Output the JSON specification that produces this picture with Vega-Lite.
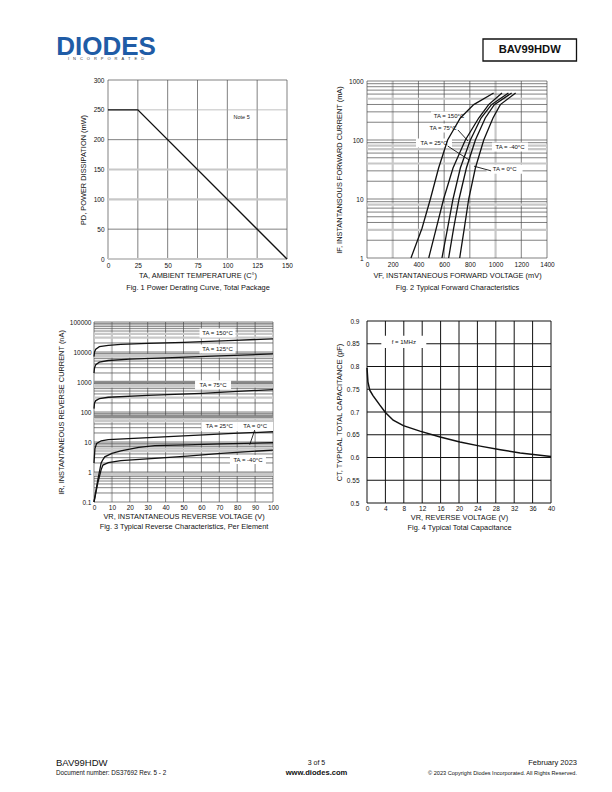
{
"$schema":"https://vega.github.io/schema/vega-lite/v6.json",
"width":612,"height":792,"padding":0,"autosize":{"type":"none"},"background":"white",
"config":{"font":"Liberation Sans","view":{"stroke":null},
 "axis":{"grid":false,"ticks":false,"domain":false,"labelFlush":false,"labelFontSize":6.5,"labelColor":"#111","titleFontSize":7.4,"titleFontWeight":"normal","titleColor":"#111","labelFont":"Liberation Sans","titleFont":"Liberation Sans","titleLineHeight":11,"labelOverlap":false}},
"datasets":{
 "pd":[{"x":0,"y":250},{"x":25,"y":250},{"x":150,"y":0}],
 "n1":[{"x":112,"y":238,"lab":"Note 5"}],
 "g1":[{"d":"v","v":0,"t":"k"},{"d":"v","v":25,"t":"k"},{"d":"v","v":50,"t":"k"},{"d":"v","v":75,"t":"k"},{"d":"v","v":100,"t":"k"},{"d":"v","v":125,"t":"k"},{"d":"v","v":150,"t":"k"},
  {"d":"h","v":0,"t":"l"},{"d":"h","v":100,"t":"l"},{"d":"h","v":150,"t":"l"},{"d":"h","v":250,"t":"m"},{"d":"h","v":50,"t":"k"},{"d":"h","v":200,"t":"k"},{"d":"h","v":300,"t":"k"}],
 "vf":[
  {"s":"150","x":342,"y":1},{"s":"150","x":428,"y":3.2},{"s":"150","x":493,"y":10},{"s":"150","x":557,"y":33.5},{"s":"150","x":627,"y":100},{"s":"150","x":726,"y":236},{"s":"150","x":830,"y":398},{"s":"150","x":985,"y":626},
  {"s":"75","x":480,"y":1},{"s":"75","x":539,"y":3.2},{"s":"75","x":596,"y":10},{"s":"75","x":669,"y":33.5},{"s":"75","x":765,"y":100},{"s":"75","x":869,"y":236},{"s":"75","x":946,"y":398},{"s":"75","x":1050,"y":626},
  {"s":"25","x":583,"y":1},{"s":"25","x":627,"y":3.2},{"s":"25","x":669,"y":10},{"s":"25","x":726,"y":33.5},{"s":"25","x":804,"y":100},{"s":"25","x":887,"y":236},{"s":"25","x":968,"y":398},{"s":"25","x":1100,"y":626},
  {"s":"0","x":635,"y":1},{"s":"0","x":674,"y":3.2},{"s":"0","x":716,"y":10},{"s":"0","x":773,"y":33.5},{"s":"0","x":843,"y":100},{"s":"0","x":920,"y":236},{"s":"0","x":990,"y":398},{"s":"0","x":1125,"y":626},
  {"s":"-40","x":721,"y":1},{"s":"-40","x":757,"y":3.2},{"s":"-40","x":791,"y":10},{"s":"-40","x":843,"y":33.5},{"s":"-40","x":908,"y":100},{"s":"-40","x":980,"y":236},{"s":"-40","x":1037,"y":398},{"s":"-40","x":1156,"y":626}],
 "g2":[{"d":"v","v":200,"t":"l"},{"d":"v","v":1000,"t":"l"},{"d":"v","v":0,"t":"k"},{"d":"v","v":400,"t":"k"},{"d":"v","v":600,"t":"k"},{"d":"v","v":800,"t":"k"},{"d":"v","v":1200,"t":"k"},{"d":"v","v":1400,"t":"k"},
  {"d":"h","v":3,"t":"l"},{"d":"h","v":8,"t":"l"},{"d":"h","v":40,"t":"l"},{"d":"h","v":70,"t":"l"},{"d":"h","v":80,"t":"l"},{"d":"h","v":500,"t":"l"},
  {"d":"h","v":1,"t":"k"},{"d":"h","v":2,"t":"k"},{"d":"h","v":4,"t":"k"},{"d":"h","v":5,"t":"k"},{"d":"h","v":6,"t":"k"},{"d":"h","v":7,"t":"k"},{"d":"h","v":9,"t":"k"},
  {"d":"h","v":10,"t":"k"},{"d":"h","v":20,"t":"k"},{"d":"h","v":30,"t":"k"},{"d":"h","v":50,"t":"k"},{"d":"h","v":60,"t":"k"},{"d":"h","v":90,"t":"k"},
  {"d":"h","v":100,"t":"k"},{"d":"h","v":200,"t":"k"},{"d":"h","v":300,"t":"k"},{"d":"h","v":400,"t":"k"},{"d":"h","v":600,"t":"k"},{"d":"h","v":700,"t":"k"},{"d":"h","v":800,"t":"k"},{"d":"h","v":900,"t":"k"},{"d":"h","v":1000,"t":"k"}],
 "l2":[{"x":638,"y":255,"lab":"TA = 150°C"},{"x":591,"y":160,"lab":"TA = 75°C"},{"x":521,"y":89,"lab":"TA = 25°C"},{"x":1112,"y":76,"lab":"TA = -40°C"},{"x":1070,"y":32,"lab":"TA = 0°C"}],
 "a2":[{"x":707,"y":148,"x2":786,"y2":96},{"x":628,"y":79,"x2":793,"y2":46},{"x":965,"y":30,"x2":832,"y2":36}],
 "ir":[
  {"s":"150","x":0,"y":7000},{"s":"150","x":0.3,"y":10000},{"s":"150","x":1,"y":12500},{"s":"150","x":3,"y":15000},{"s":"150","x":8,"y":16700},{"s":"150","x":15,"y":18000},{"s":"150","x":30,"y":19500},{"s":"150","x":50,"y":21000},{"s":"150","x":75,"y":24000},{"s":"150","x":100,"y":27500},
  {"s":"125","x":0,"y":2000},{"s":"125","x":0.3,"y":3000},{"s":"125","x":1,"y":3800},{"s":"125","x":3,"y":4600},{"s":"125","x":8,"y":5200},{"s":"125","x":20,"y":5800},{"s":"125","x":40,"y":6400},{"s":"125","x":70,"y":7400},{"s":"125","x":100,"y":8600},
  {"s":"75","x":0,"y":130},{"s":"75","x":0.3,"y":200},{"s":"75","x":1,"y":240},{"s":"75","x":3,"y":280},{"s":"75","x":8,"y":310},{"s":"75","x":30,"y":360},{"s":"75","x":60,"y":420},{"s":"75","x":100,"y":560},
  {"s":"25","x":0,"y":2},{"s":"25","x":0.5,"y":6},{"s":"25","x":1.5,"y":9},{"s":"25","x":4,"y":11},{"s":"25","x":8,"y":12},{"s":"25","x":25,"y":13.5},{"s":"25","x":50,"y":16},{"s":"25","x":75,"y":19},{"s":"25","x":100,"y":22},
  {"s":"0","x":0,"y":0.1},{"s":"0","x":2,"y":0.5},{"s":"0","x":4,"y":2},{"s":"0","x":5,"y":2.6},{"s":"0","x":6,"y":3.2},{"s":"0","x":10,"y":4.2},{"s":"0","x":15,"y":5.1},{"s":"0","x":25,"y":6.6},{"s":"0","x":34,"y":7.6},{"s":"0","x":52,"y":8},{"s":"0","x":71,"y":8.6},{"s":"0","x":100,"y":9.5},
  {"s":"-40","x":0,"y":0.1},{"s":"-40","x":2,"y":0.4},{"s":"-40","x":4,"y":1.2},{"s":"-40","x":5,"y":1.7},{"s":"-40","x":8,"y":2.05},{"s":"-40","x":15,"y":2.4},{"s":"-40","x":34,"y":2.85},{"s":"-40","x":52,"y":3.4},{"s":"-40","x":71,"y":4.2},{"s":"-40","x":100,"y":5.4}],
 "g3":[{"d":"v","v":10,"t":"l"},{"d":"v","v":0,"t":"k"},{"d":"v","v":20,"t":"k"},{"d":"v","v":30,"t":"k"},{"d":"v","v":40,"t":"k"},{"d":"v","v":50,"t":"k"},{"d":"v","v":60,"t":"k"},{"d":"v","v":70,"t":"k"},{"d":"v","v":80,"t":"k"},{"d":"v","v":90,"t":"k"},{"d":"v","v":100,"t":"k"},
  {"d":"h","v":0.8,"t":"l"},{"d":"h","v":0.9,"t":"l"},{"d":"h","v":5,"t":"l"},{"d":"h","v":6,"t":"l"},{"d":"h","v":50,"t":"l"},{"d":"h","v":60,"t":"l"},{"d":"h","v":70,"t":"g"},{"d":"h","v":300,"t":"l"},{"d":"h","v":700,"t":"l"},{"d":"h","v":800,"t":"l"},{"d":"h","v":1000,"t":"g"},{"d":"h","v":7000,"t":"l"},{"d":"h","v":8000,"t":"l"},{"d":"h","v":30000,"t":"l"},{"d":"h","v":40000,"t":"l"},
  {"d":"h","v":0.1,"t":"k"},{"d":"h","v":0.2,"t":"k"},{"d":"h","v":0.3,"t":"k"},{"d":"h","v":0.4,"t":"k"},{"d":"h","v":0.5,"t":"k"},{"d":"h","v":0.6,"t":"k"},{"d":"h","v":0.7,"t":"k"},
  {"d":"h","v":1,"t":"k"},{"d":"h","v":2,"t":"k"},{"d":"h","v":3,"t":"k"},{"d":"h","v":4,"t":"k"},{"d":"h","v":7,"t":"k"},{"d":"h","v":8,"t":"k"},{"d":"h","v":9,"t":"k"},
  {"d":"h","v":10,"t":"k"},{"d":"h","v":20,"t":"k"},{"d":"h","v":30,"t":"k"},{"d":"h","v":40,"t":"k"},{"d":"h","v":80,"t":"k"},{"d":"h","v":90,"t":"k"},
  {"d":"h","v":100,"t":"k"},{"d":"h","v":200,"t":"k"},{"d":"h","v":400,"t":"k"},{"d":"h","v":500,"t":"k"},{"d":"h","v":600,"t":"k"},{"d":"h","v":900,"t":"k"},
  {"d":"h","v":2000,"t":"k"},{"d":"h","v":3000,"t":"k"},{"d":"h","v":4000,"t":"k"},{"d":"h","v":5000,"t":"k"},{"d":"h","v":6000,"t":"k"},{"d":"h","v":9000,"t":"k"},
  {"d":"h","v":10000,"t":"k"},{"d":"h","v":20000,"t":"k"},{"d":"h","v":50000,"t":"k"},{"d":"h","v":60000,"t":"k"},{"d":"h","v":70000,"t":"k"},{"d":"h","v":80000,"t":"k"},{"d":"h","v":90000,"t":"k"},{"d":"h","v":100000,"t":"k"}],
 "l3":[{"x":69,"y":43000,"lab":"TA = 150°C"},{"x":69,"y":12600,"lab":"TA = 125°C"},{"x":66.5,"y":810,"lab":"TA = 75°C"},{"x":70,"y":33,"lab":"TA = 25°C"},{"x":90,"y":33,"lab":"TA = 0°C"},{"x":86,"y":2.6,"lab":"TA = -40°C"}],
 "a3":[{"x":89.8,"y":25,"x2":87,"y2":8.1}],
 "ct":[{"x":0,"y":0.797},{"x":0.2,"y":0.766},{"x":0.6,"y":0.748},{"x":1.3,"y":0.736},{"x":2.8,"y":0.715},{"x":4,"y":0.699},{"x":5.7,"y":0.682},{"x":7.9,"y":0.67},{"x":11.5,"y":0.658},{"x":15.9,"y":0.645},{"x":20.2,"y":0.634},{"x":24.6,"y":0.625},{"x":29,"y":0.617},{"x":33.3,"y":0.61},{"x":40,"y":0.602}],
 "g4":[{"d":"v","v":0},{"d":"v","v":4},{"d":"v","v":8},{"d":"v","v":12},{"d":"v","v":16},{"d":"v","v":20},{"d":"v","v":24},{"d":"v","v":28},{"d":"v","v":32},{"d":"v","v":36},{"d":"v","v":40},
  {"d":"h","v":0.5},{"d":"h","v":0.55},{"d":"h","v":0.6},{"d":"h","v":0.65},{"d":"h","v":0.7},{"d":"h","v":0.75},{"d":"h","v":0.8},{"d":"h","v":0.85},{"d":"h","v":0.9}],
 "l4":[{"x":8,"y":0.854,"lab":"f = 1MHz"}],
 "logo":[{"k":"logo","ln":"a","txt":"DIODES"},{"k":"logo","ln":"b","txt":"I\u2003N\u2003C\u2003O\u2003R\u2003P\u2003O\u2003R\u2003A\u2003T\u2003E\u2003D"}],
 "box":[{"part":"BAV99HDW"}],
 "foot":[{"s":"left","l":"1","txt":"BAV99HDW"},{"s":"left","l":"2","txt":"Document number: DS37692 Rev. 5 - 2"},{"s":"center","l":"1","txt":"3 of 5"},{"s":"center","l":"2","txt":"www.diodes.com"},{"s":"right","l":"1","txt":"February 2023"},{"s":"right","l":"2","txt":"© 2023 Copyright Diodes Incorporated. All Rights Reserved."}]
},
"resolve":{"scale":{"x":"independent","y":"independent"},"axis":{"x":"independent","y":"independent"}},
"layer":[
  {"data":{"name":"g1"},"transform":[{"filter":"datum.d==='v'"}],"mark":"rule",
   "encoding":{"x":{"field":"v","type":"quantitative","scale":{"domain":[0,150],"range":[108,287],"nice":false,"zero":false},"axis":null},
    "y":{"datum":0,"type":"quantitative","scale":{"domain":[0,300],"range":[259,80],"nice":false,"zero":false},"axis":null},"y2":{"datum":300},
    "color":{"condition":[{"test":"datum.t==='l'","value":"#c8c8c8"},{"test":"datum.t==='m'","value":"#a8a8a8"}],"value":"#4a4a4a"},
    "strokeWidth":{"condition":[{"test":"datum.t==='l'","value":2.2}],"value":0.7}}},
  {"data":{"name":"g1"},"transform":[{"filter":"datum.d==='h'"}],"mark":"rule",
   "encoding":{"y":{"field":"v","type":"quantitative","scale":{"domain":[0,300],"range":[259,80],"nice":false,"zero":false},"axis":null},
    "x":{"datum":0,"type":"quantitative","scale":{"domain":[0,150],"range":[108,287],"nice":false,"zero":false},"axis":null},"x2":{"datum":150},
    "color":{"condition":[{"test":"datum.t==='l'","value":"#c8c8c8"},{"test":"datum.t==='m'","value":"#a8a8a8"}],"value":"#4a4a4a"},
    "strokeWidth":{"condition":[{"test":"datum.t==='l'","value":2.2}],"value":0.7}}},
  {"data":{"name":"pd"},"mark":{"type":"line","color":"#111","strokeWidth":1.4},
   "encoding":{"x":{"field":"x","type":"quantitative","scale":{"domain":[0,150],"range":[108,287],"nice":false,"zero":false},
     "axis":{"orient":"bottom","offset":-533,"values":[0,25,50,75,100,125,150],"format":"d","labelPadding":3,"titlePadding":3,"titleLineHeight":12,"title":["TA, AMBIENT TEMPERATURE (C°)","Fig. 1  Power Derating Curve, Total Package"]}},
    "y":{"field":"y","type":"quantitative","scale":{"domain":[0,300],"range":[259,80],"nice":false,"zero":false},
     "axis":{"orient":"left","offset":-108,"values":[0,50,100,150,200,250,300],"format":"d","labelPadding":4,"titlePadding":6,"title":"PD, POWER DISSIPATION (mW)"}}}},
  {"data":{"name":"n1"},"mark":{"type":"text","fontSize":5.5,"color":"#222"},
   "encoding":{"x":{"field":"x","type":"quantitative","scale":{"domain":[0,150],"range":[108,287],"nice":false,"zero":false},"axis":null},
    "y":{"field":"y","type":"quantitative","scale":{"domain":[0,300],"range":[259,80],"nice":false,"zero":false},"axis":null},"text":{"field":"lab"}}},

  {"data":{"name":"g2"},"transform":[{"filter":"datum.d==='v'"}],"mark":"rule",
   "encoding":{"x":{"field":"v","type":"quantitative","scale":{"domain":[0,1400],"range":[367,547],"nice":false,"zero":false},"axis":null},
    "y":{"datum":1,"type":"quantitative","scale":{"type":"log","domain":[1,1000],"range":[258,81],"nice":false},"axis":null},"y2":{"datum":1000},
    "color":{"condition":[{"test":"datum.t==='l'","value":"#c8c8c8"}],"value":"#4a4a4a"},
    "strokeWidth":{"condition":[{"test":"datum.t==='l'","value":2.2}],"value":0.7}}},
  {"data":{"name":"g2"},"transform":[{"filter":"datum.d==='h'"}],"mark":"rule",
   "encoding":{"y":{"field":"v","type":"quantitative","scale":{"type":"log","domain":[1,1000],"range":[258,81],"nice":false},"axis":null},
    "x":{"datum":0,"type":"quantitative","scale":{"domain":[0,1400],"range":[367,547],"nice":false,"zero":false},"axis":null},"x2":{"datum":1400},
    "color":{"condition":[{"test":"datum.t==='l'","value":"#c8c8c8"}],"value":"#4a4a4a"},
    "strokeWidth":{"condition":[{"test":"datum.t==='l'","value":2.2}],"value":0.7}}},
  {"data":{"name":"l2"},"mark":{"type":"point","shape":"M-1,-0.25H1V0.25H-1Z","size":1296,"filled":true,"color":"white","opacity":1},
   "encoding":{"x":{"field":"x","type":"quantitative","scale":{"domain":[0,1400],"range":[367,547],"nice":false,"zero":false},"axis":null},
    "y":{"field":"y","type":"quantitative","scale":{"type":"log","domain":[1,1000],"range":[258,81],"nice":false},"axis":null}}},
  {"data":{"name":"vf"},"mark":{"type":"line","color":"#111","strokeWidth":1.3},
   "encoding":{"x":{"field":"x","type":"quantitative","scale":{"domain":[0,1400],"range":[367,547],"nice":false,"zero":false},
     "axis":{"orient":"bottom","offset":-534,"values":[0,200,400,600,800,1000,1200,1400],"format":"d","labelPadding":3,"titlePadding":4,"titleLineHeight":12,"title":["VF, INSTANTANEOUS FORWARD VOLTAGE (mV)","Fig. 2 Typical Forward Characteristics"]}},
    "y":{"field":"y","type":"quantitative","scale":{"type":"log","domain":[1,1000],"range":[258,81],"nice":false},
     "axis":{"orient":"left","offset":-367,"values":[1,10,100,1000],"format":"d","labelPadding":4,"titlePadding":5,"title":"IF, INSTANTANSOUS FORWARD CURRENT (mA)"}},
    "detail":{"field":"s","type":"nominal"}}},
  {"data":{"name":"a2"},"mark":{"type":"rule","color":"#111","strokeWidth":0.9},
   "encoding":{"x":{"field":"x","type":"quantitative","scale":{"domain":[0,1400],"range":[367,547],"nice":false,"zero":false},"axis":null},
    "y":{"field":"y","type":"quantitative","scale":{"type":"log","domain":[1,1000],"range":[258,81],"nice":false},"axis":null},
    "x2":{"field":"x2"},"y2":{"field":"y2"}}},
  {"data":{"name":"l2"},"mark":{"type":"text","fontSize":6,"color":"#111"},
   "encoding":{"x":{"field":"x","type":"quantitative","scale":{"domain":[0,1400],"range":[367,547],"nice":false,"zero":false},"axis":null},
    "y":{"field":"y","type":"quantitative","scale":{"type":"log","domain":[1,1000],"range":[258,81],"nice":false},"axis":null},"text":{"field":"lab"}}},

  {"data":{"name":"g3"},"transform":[{"filter":"datum.d==='v'"}],"mark":"rule",
   "encoding":{"x":{"field":"v","type":"quantitative","scale":{"domain":[0,100],"range":[94,273],"nice":false,"zero":false},"axis":null},
    "y":{"datum":0.1,"type":"quantitative","scale":{"type":"log","domain":[0.1,100000],"range":[502,322],"nice":false},"axis":null},"y2":{"datum":100000},
    "color":{"condition":[{"test":"datum.t==='l'","value":"#c8c8c8"},{"test":"datum.t==='g'","value":"#8e8e8e"}],"value":"#4a4a4a"},
    "strokeWidth":{"condition":[{"test":"datum.t==='l'","value":2.2},{"test":"datum.t==='g'","value":2.6}],"value":0.7}}},
  {"data":{"name":"g3"},"transform":[{"filter":"datum.d==='h'"}],"mark":"rule",
   "encoding":{"y":{"field":"v","type":"quantitative","scale":{"type":"log","domain":[0.1,100000],"range":[502,322],"nice":false},"axis":null},
    "x":{"datum":0,"type":"quantitative","scale":{"domain":[0,100],"range":[94,273],"nice":false,"zero":false},"axis":null},"x2":{"datum":100},
    "color":{"condition":[{"test":"datum.t==='l'","value":"#c8c8c8"},{"test":"datum.t==='g'","value":"#8e8e8e"}],"value":"#4a4a4a"},
    "strokeWidth":{"condition":[{"test":"datum.t==='l'","value":2.2},{"test":"datum.t==='g'","value":2.6}],"value":0.7}}},
  {"data":{"name":"l3"},"mark":{"type":"point","shape":"M-1,-0.25H1V0.25H-1Z","size":1296,"filled":true,"color":"white","opacity":1},
   "encoding":{"x":{"field":"x","type":"quantitative","scale":{"domain":[0,100],"range":[94,273],"nice":false,"zero":false},"axis":null},
    "y":{"field":"y","type":"quantitative","scale":{"type":"log","domain":[0.1,100000],"range":[502,322],"nice":false},"axis":null}}},
  {"data":{"name":"ir"},"mark":{"type":"line","color":"#111","strokeWidth":1.3},
   "encoding":{"x":{"field":"x","type":"quantitative","scale":{"domain":[0,100],"range":[94,273],"nice":false,"zero":false},
     "axis":{"orient":"bottom","offset":-290,"values":[0,10,20,30,40,50,60,70,80,90,100],"format":"d","labelPadding":2,"titlePadding":2,"titleLineHeight":10,"title":["VR, INSTANTANEOUS REVERSE VOLTAGE (V)","Fig. 3 Typical Reverse Characteristics, Per Element"]}},
    "y":{"field":"y","type":"quantitative","scale":{"type":"log","domain":[0.1,100000],"range":[502,322],"nice":false},
     "axis":{"orient":"left","offset":-94,"values":[0.1,1,10,100,1000,10000,100000],"format":"~g","labelPadding":3,"titlePadding":4,"title":"IR, INSTANTANEOUS REVERSE CURRENT (nA)"}},
    "detail":{"field":"s","type":"nominal"}}},
  {"data":{"name":"a3"},"mark":{"type":"rule","color":"#111","strokeWidth":0.9},
   "encoding":{"x":{"field":"x","type":"quantitative","scale":{"domain":[0,100],"range":[94,273],"nice":false,"zero":false},"axis":null},
    "y":{"field":"y","type":"quantitative","scale":{"type":"log","domain":[0.1,100000],"range":[502,322],"nice":false},"axis":null},
    "x2":{"field":"x2"},"y2":{"field":"y2"}}},
  {"data":{"name":"l3"},"mark":{"type":"text","fontSize":6,"color":"#111"},
   "encoding":{"x":{"field":"x","type":"quantitative","scale":{"domain":[0,100],"range":[94,273],"nice":false,"zero":false},"axis":null},
    "y":{"field":"y","type":"quantitative","scale":{"type":"log","domain":[0.1,100000],"range":[502,322],"nice":false},"axis":null},"text":{"field":"lab"}}},

  {"data":{"name":"g4"},"transform":[{"filter":"datum.d==='v'"}],"mark":{"type":"rule","color":"#111","strokeWidth":1},
   "encoding":{"x":{"field":"v","type":"quantitative","scale":{"domain":[0,40],"range":[367,551],"nice":false,"zero":false},"axis":null},
    "y":{"datum":0.5,"type":"quantitative","scale":{"domain":[0.5,0.9],"range":[503,321],"nice":false,"zero":false},"axis":null},"y2":{"datum":0.9}}},
  {"data":{"name":"g4"},"transform":[{"filter":"datum.d==='h'"}],"mark":{"type":"rule","color":"#111","strokeWidth":1},
   "encoding":{"y":{"field":"v","type":"quantitative","scale":{"domain":[0.5,0.9],"range":[503,321],"nice":false,"zero":false},"axis":null},
    "x":{"datum":0,"type":"quantitative","scale":{"domain":[0,40],"range":[367,551],"nice":false,"zero":false},"axis":null},"x2":{"datum":40}}},
  {"data":{"name":"l4"},"mark":{"type":"point","shape":"M-1,-0.27H1V0.27H-1Z","size":2025,"filled":true,"color":"white","opacity":1},
   "encoding":{"x":{"field":"x","type":"quantitative","scale":{"domain":[0,40],"range":[367,551],"nice":false,"zero":false},"axis":null},
    "y":{"field":"y","type":"quantitative","scale":{"domain":[0.5,0.9],"range":[503,321],"nice":false,"zero":false},"axis":null}}},
  {"data":{"name":"ct"},"mark":{"type":"line","color":"#111","strokeWidth":1.5},
   "encoding":{"x":{"field":"x","type":"quantitative","scale":{"domain":[0,40],"range":[367,551],"nice":false,"zero":false},
     "axis":{"orient":"bottom","offset":-289,"values":[0,4,8,12,16,20,24,28,32,36,40],"format":"d","labelPadding":2,"titlePadding":2,"titleLineHeight":10,"title":["VR, REVERSE VOLTAGE (V)","Fig. 4  Typical Total Capacitance"]}},
    "y":{"field":"y","type":"quantitative","scale":{"domain":[0.5,0.9],"range":[503,321],"nice":false,"zero":false},
     "axis":{"orient":"left","offset":-367,"values":[0.5,0.55,0.6,0.65,0.7,0.75,0.8,0.85,0.9],"format":"~g","labelPadding":8,"titlePadding":3,"title":"CT, TYPICAL TOTAL CAPACITANCE (pF)"}}}},
  {"data":{"name":"l4"},"mark":{"type":"text","fontSize":6,"color":"#111"},
   "encoding":{"x":{"field":"x","type":"quantitative","scale":{"domain":[0,40],"range":[367,551],"nice":false,"zero":false},"axis":null},
    "y":{"field":"y","type":"quantitative","scale":{"domain":[0.5,0.9],"range":[503,321],"nice":false,"zero":false},"axis":null},"text":{"field":"lab"}}},

  {"data":{"name":"logo"},"transform":[{"filter":"datum.ln==='a'"}],"mark":{"type":"text","fontSize":26,"fontWeight":"bold","color":"#1f5ca6","baseline":"alphabetic","align":"center"},
   "encoding":{"x":{"field":"k","type":"nominal","scale":{"type":"point","domain":["logo"],"range":[57,155],"padding":0},"axis":null},
    "y":{"field":"ln","type":"nominal","scale":{"type":"point","domain":["a","b"],"range":[54.5,58.6],"padding":0},"axis":null},"text":{"field":"txt"}}},
  {"data":{"name":"logo"},"transform":[{"filter":"datum.ln==='b'"}],"mark":{"type":"text","fontSize":4,"color":"#333","align":"center","baseline":"middle"},
   "encoding":{"x":{"field":"k","type":"nominal","scale":{"type":"point","domain":["logo"],"range":[57,155],"padding":0},"axis":null},
    "y":{"field":"ln","type":"nominal","scale":{"type":"point","domain":["a","b"],"range":[54.5,58.6],"padding":0},"axis":null},"text":{"field":"txt"}}},
  {"data":{"name":"box"},"mark":{"type":"rect","fill":"white","stroke":"#111","strokeWidth":1.3},
   "encoding":{"x":{"field":"part","type":"nominal","scale":{"type":"band","domain":["BAV99HDW"],"range":[483,576.5],"paddingInner":0,"paddingOuter":0},"axis":null},
    "y":{"field":"part","type":"nominal","scale":{"type":"band","domain":["BAV99HDW"],"range":[39,61],"paddingInner":0,"paddingOuter":0},"axis":null}}},
  {"data":{"name":"box"},"mark":{"type":"text","fontSize":11.2,"fontWeight":"bold","color":"#111"},
   "encoding":{"x":{"field":"part","type":"nominal","scale":{"type":"band","domain":["BAV99HDW"],"range":[483,576.5],"paddingInner":0,"paddingOuter":0},"axis":null},
    "y":{"field":"part","type":"nominal","scale":{"type":"band","domain":["BAV99HDW"],"range":[39,61],"paddingInner":0,"paddingOuter":0},"axis":null},"text":{"field":"part"}}},
  {"data":{"name":"foot"},"layer":[
   {"transform":[{"filter":"datum.s==='left' && datum.l==='1'"}],"mark":{"type":"text","align":"left","fontSize":9.5,"color":"#111"},
    "encoding":{"x":{"field":"s","type":"nominal","scale":{"type":"point","domain":["left","center","right"],"range":[56,577],"padding":0},"axis":null},
     "y":{"field":"l","type":"nominal","scale":{"type":"point","domain":["1","2"],"range":[763,772.5],"padding":0},"axis":null},"text":{"field":"txt"}}},
   {"transform":[{"filter":"datum.s==='left' && datum.l==='2'"}],"mark":{"type":"text","align":"left","fontSize":6.3,"color":"#111"},
    "encoding":{"x":{"field":"s","type":"nominal","scale":{"type":"point","domain":["left","center","right"],"range":[56,577],"padding":0},"axis":null},
     "y":{"field":"l","type":"nominal","scale":{"type":"point","domain":["1","2"],"range":[763,772.5],"padding":0},"axis":null},"text":{"field":"txt"}}},
   {"transform":[{"filter":"datum.s==='center' && datum.l==='1'"}],"mark":{"type":"text","align":"center","fontSize":7,"color":"#111"},
    "encoding":{"x":{"field":"s","type":"nominal","scale":{"type":"point","domain":["left","center","right"],"range":[56,577],"padding":0},"axis":null},
     "y":{"field":"l","type":"nominal","scale":{"type":"point","domain":["1","2"],"range":[763,772.5],"padding":0},"axis":null},"text":{"field":"txt"}}},
   {"transform":[{"filter":"datum.s==='center' && datum.l==='2'"}],"mark":{"type":"text","align":"center","fontSize":7.6,"fontWeight":"bold","color":"#111"},
    "encoding":{"x":{"field":"s","type":"nominal","scale":{"type":"point","domain":["left","center","right"],"range":[56,577],"padding":0},"axis":null},
     "y":{"field":"l","type":"nominal","scale":{"type":"point","domain":["1","2"],"range":[763,772.5],"padding":0},"axis":null},"text":{"field":"txt"}}},
   {"transform":[{"filter":"datum.s==='right' && datum.l==='1'"}],"mark":{"type":"text","align":"right","fontSize":7.5,"color":"#111"},
    "encoding":{"x":{"field":"s","type":"nominal","scale":{"type":"point","domain":["left","center","right"],"range":[56,577],"padding":0},"axis":null},
     "y":{"field":"l","type":"nominal","scale":{"type":"point","domain":["1","2"],"range":[763,772.5],"padding":0},"axis":null},"text":{"field":"txt"}}},
   {"transform":[{"filter":"datum.s==='right' && datum.l==='2'"}],"mark":{"type":"text","align":"right","fontSize":5.6,"color":"#111"},
    "encoding":{"x":{"field":"s","type":"nominal","scale":{"type":"point","domain":["left","center","right"],"range":[56,577],"padding":0},"axis":null},
     "y":{"field":"l","type":"nominal","scale":{"type":"point","domain":["1","2"],"range":[763,772.5],"padding":0},"axis":null},"text":{"field":"txt"}}}
  ]}
]
}
